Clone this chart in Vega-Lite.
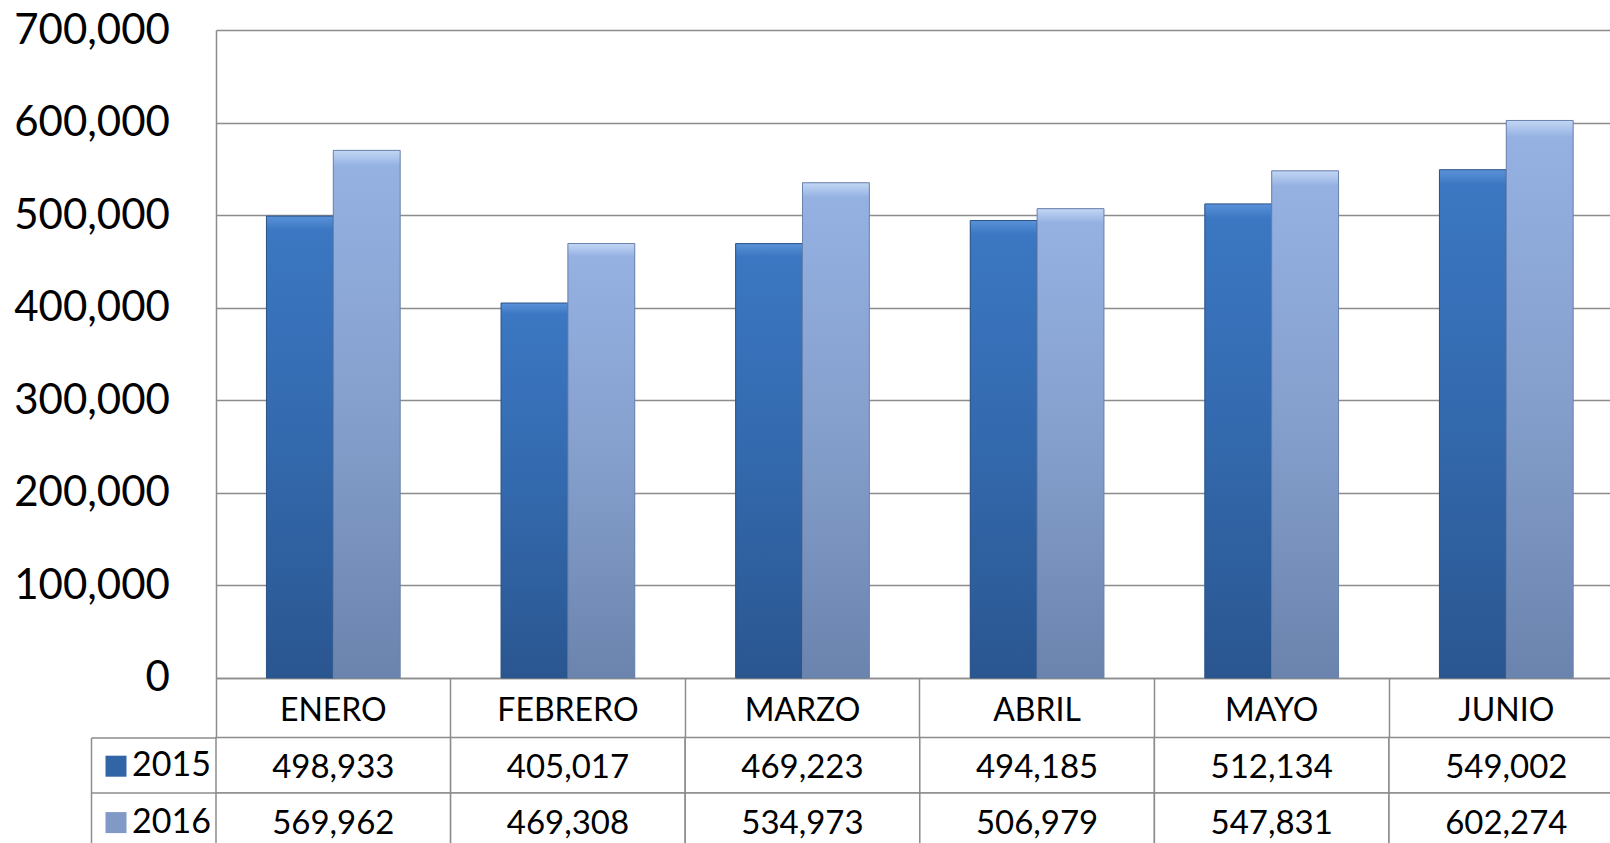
{
  "$schema": "https://vega.github.io/schema/vega-lite/v6.json",
  "padding": {"left": 13, "top": 9, "right": 0, "bottom": 0},
  "background": "white",
  "config": {"font": "Lato", "view": {"stroke": null}},
  "datasets": {
    "ventas": [
      {"mes": "ENERO", "anio": "2015", "valor": 498933},
      {"mes": "FEBRERO", "anio": "2015", "valor": 405017},
      {"mes": "MARZO", "anio": "2015", "valor": 469223},
      {"mes": "ABRIL", "anio": "2015", "valor": 494185},
      {"mes": "MAYO", "anio": "2015", "valor": 512134},
      {"mes": "JUNIO", "anio": "2015", "valor": 549002},
      {"mes": "ENERO", "anio": "2016", "valor": 569962},
      {"mes": "FEBRERO", "anio": "2016", "valor": 469308},
      {"mes": "MARZO", "anio": "2016", "valor": 534973},
      {"mes": "ABRIL", "anio": "2016", "valor": 506979},
      {"mes": "MAYO", "anio": "2016", "valor": 547831},
      {"mes": "JUNIO", "anio": "2016", "valor": 602274}
    ]
  },
  "bounds": "flush",
  "spacing": 59.6,
  "resolve": {"scale": {"x": "independent", "y": "independent"}},
  "vconcat": [
    {
      "width": 1407.6,
      "height": 647.9,
      "data": {"name": "ventas"},
      "encoding": {
        "x": {
          "field": "mes", "type": "nominal",
          "sort": ["ENERO", "FEBRERO", "MARZO", "ABRIL", "MAYO", "JUNIO"],
          "scale": {"paddingInner": 0.43, "paddingOuter": 0.215},
          "axis": {
            "title": null, "labelAngle": 0, "labelFontSize": 32, "labelColor": "black",
            "labelBaseline": "middle", "labelPadding": -26.8,
            "ticks": true, "tickSize": 59.6, "tickColor": "#8c8c8c", "tickWidth": 1.5,
            "bandPosition": -0.37719, "domainColor": "#8c8c8c", "domainWidth": 1.5, "grid": false
          }
        },
        "xOffset": {
          "field": "anio", "type": "nominal", "sort": ["2015", "2016"],
          "scale": {"paddingInner": 0, "paddingOuter": 0}
        },
        "y": {
          "field": "valor", "type": "quantitative",
          "scale": {"domain": [0, 700000], "nice": false},
          "axis": {
            "title": null, "values": [0, 100000, 200000, 300000, 400000, 500000, 600000, 700000],
            "format": ",.0f", "labelFontSize": 42, "labelColor": "black", "labelPadding": 46.6,
            "ticks": false, "domainColor": "#8c8c8c", "domainWidth": 1.5,
            "grid": true, "gridColor": "#8c8c8c", "gridWidth": 1.5
          }
        }
      },
      "layer": [
        {
          "mark": {"type": "bar"},
          "encoding": {
            "color": {
              "field": "anio", "type": "nominal",
              "scale": {"domain": ["2015", "2016"], "range": ["#3165a6", "#8099c6"]},
              "legend": {
                "orient": "none", "legendX": -117, "legendY": 719.2, "title": null,
                "symbolType": "square", "symbolSize": 441, "symbolStrokeWidth": 0,
                "symbolOpacity": 1, "labelFontSize": 34, "labelColor": "black",
                "labelOffset": -1, "rowPadding": 22.4, "padding": 0
              }
            }
          }
        },
        {
          "transform": [{"filter": "datum.anio == '2015'"}],
          "mark": {
            "type": "bar", "stroke": "#2b5287", "strokeWidth": 1,
            "color": {
              "gradient": "linear", "x1": 0, "y1": 0, "x2": 0, "y2": 1,
              "stops": [
                {"offset": 0, "color": "#5a92d8"},
                {"offset": 0.03, "color": "#3b77c2"},
                {"offset": 0.5, "color": "#3369ad"},
                {"offset": 1, "color": "#2a5690"}
              ]
            }
          }
        },
        {
          "transform": [{"filter": "datum.anio == '2016'"}],
          "mark": {
            "type": "bar", "stroke": "#6a82ab", "strokeWidth": 1,
            "color": {
              "gradient": "linear", "x1": 0, "y1": 0, "x2": 0, "y2": 1,
              "stops": [
                {"offset": 0, "color": "#c3d7f5"},
                {"offset": 0.03, "color": "#94b1e2"},
                {"offset": 0.5, "color": "#859fcc"},
                {"offset": 1, "color": "#6b84ae"}
              ]
            }
          }
        }
      ]
    },
    {
      "width": 1407.6,
      "height": 110.8,
      "data": {"name": "ventas"},
      "encoding": {
        "x": {
          "field": "mes", "type": "nominal",
          "sort": ["ENERO", "FEBRERO", "MARZO", "ABRIL", "MAYO", "JUNIO"],
          "scale": {"paddingInner": 0, "paddingOuter": 0},
          "axis": null
        },
        "y": {
          "field": "anio", "type": "nominal", "sort": ["2015", "2016"],
          "scale": {"paddingInner": 0, "paddingOuter": 0},
          "axis": {
            "title": null, "labels": false, "offset": 125,
            "domainColor": "#8c8c8c", "domainWidth": 1.5,
            "ticks": true, "tickSize": -125, "tickColor": "#8c8c8c", "tickWidth": 1.5,
            "bandPosition": 0, "grid": false
          }
        }
      },
      "layer": [
        {"mark": {"type": "rect", "fill": "white", "stroke": "#8c8c8c", "strokeWidth": 1.5}},
        {
          "mark": {"type": "text", "fontSize": 33, "color": "black", "dy": 3},
          "encoding": {"text": {"field": "valor", "type": "quantitative", "format": ","}}
        }
      ]
    }
  ]
}
